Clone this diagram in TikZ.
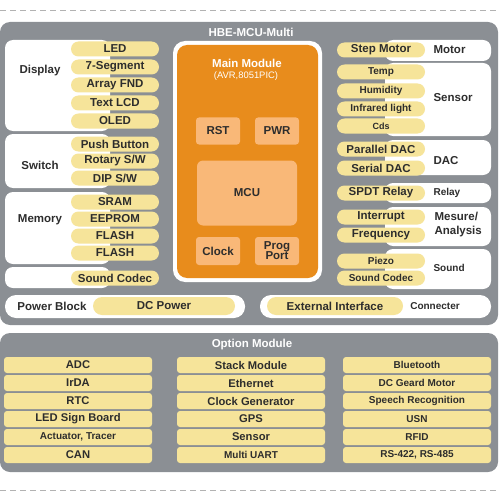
\documentclass[tikz,border=0pt]{standalone}
\usepackage{fontspec}
\setmainfont{Liberation Sans}
\usetikzlibrary{positioning}

\definecolor{panelgray}{RGB}{139,143,148}
\definecolor{pillyellow}{RGB}{246,228,154}
\definecolor{mainorange}{RGB}{232,140,28}
\definecolor{lightorange}{RGB}{249,184,120}
\definecolor{textgray}{RGB}{45,45,45}

\tikzset{
  cutline/.style={gray!60, dashed, dash pattern=on 6pt off 4pt, line width=0.8pt},
  panel/.style={fill=panelgray, rounded corners=10pt},
  group/.style={fill=white, rounded corners=8pt},
  bar/.style={fill=white, rounded corners=11pt},
  title/.style={text=white, font=\fontsize{11.5}{13}\selectfont\bfseries},
  lbl/.style={text=textgray, font=\fontsize{11.5}{14}\selectfont\bfseries},
  lblsm/.style={text=textgray, font=\fontsize{10}{12}\selectfont\bfseries},
  pill/.style={fill=pillyellow, rounded corners=7.5pt, minimum height=15pt,
    minimum width=88pt, inner sep=0pt, text=textgray,
    font=\fontsize{11.5}{13}\selectfont\bfseries},
  pillsm/.style={pill, font=\fontsize{10}{12}\selectfont\bfseries},
  pilltiny/.style={pill, font=\fontsize{9}{10}\selectfont\bfseries},
  core/.style={fill=lightorange, rounded corners=3pt, inner sep=0pt,
    text=textgray, align=center, font=\fontsize{11.5}{12}\selectfont\bfseries},
  optbox/.style={fill=pillyellow, rounded corners=3pt, minimum height=16pt,
    minimum width=148pt, inner sep=0pt, text=textgray,
    font=\fontsize{11.2}{13}\selectfont\bfseries},
  optsm/.style={optbox, font=\fontsize{10}{12}\selectfont\bfseries}
}

\begin{document}
\begin{tikzpicture}[x=1pt, y=-1pt]
  \useasboundingbox (0,0) rectangle (500,500);

  % Dashed cut lines
  \draw[cutline] (0,10) -- (500,10);
  \draw[cutline] (0,490) -- (500,490);

  % Gray panels
  \fill[panel] (0,22) rectangle (498,325);
  \fill[panel] (0,333) rectangle (498,472);
  \node[title] (hbe) at (251,32) {HBE-MCU-Multi};
  \node[title] (opt) at (252,345) {Option Module};

  % White group boxes
  \foreach \top/\bot in {40/131, 134/188, 192/264, 267/288}
    \fill[group] (5,\top) rectangle (110,\bot);
  \foreach \top/\bot in {40/61, 63/136, 140/175, 183/203, 207/246, 249/289}
    \fill[group] (385,\top) rectangle (491,\bot);
  \fill[bar] (5,295) rectangle (245,318);
  \fill[bar] (260,295) rectangle (491,318);

  % Main module
  \fill[white, rounded corners=12pt] (173,41) rectangle (322,282);
  \fill[mainorange, rounded corners=10pt] (177,45) rectangle (318,278);
  \node[title] (main) at (247,63) {Main Module};
  \node[text=white, font=\fontsize{9.4}{11}\selectfont] (avr) at (246,76) {(AVR,8051PIC)};

  \node[core, minimum width=44pt, minimum height=27pt] (rst) at (218,131) {RST};
  \node[core, minimum width=44pt, minimum height=27pt] (pwr) at (277,131) {PWR};
  \node[core, minimum width=100pt, minimum height=65pt, rounded corners=6pt] (mcu) at (247,193) {MCU};
  \node[core, minimum width=44pt, minimum height=28pt] (clock) at (218,251) {Clock};
  \node[core, minimum width=44pt, minimum height=28pt] (prog) at (277,251) {Prog\\[-2pt]Port};

  % Left pills
  \foreach \name/\y/\txt/\sty in {led/49/LED/pill, seg/67/7-Segment/pill,
      fnd/85/Array FND/pill, lcd/103/Text LCD/pill, oled/121/OLED/pill,
      push/144/Push Button/pill, rot/161/{Rotary S/W}/pill, dip/178/{DIP S/W}/pill,
      sram/202/SRAM/pill, eep/219/EEPROM/pill, flasha/236/FLASH/pill,
      flashb/253/FLASH/pill, codec/278/Sound Codec/pill}
    \node[\sty] (\name) at (115,\y) {\txt};

  % Right pills
  \foreach \name/\y/\txt/\sty in {step/50/Step Motor/pill, temp/72/Temp/pillsm,
      hum/91/Humidity/pillsm, ir/109/Infrared light/pillsm, cds/126/Cds/pilltiny,
      pdac/149/Parallel DAC/pill, sdac/168/Serial DAC/pill,
      spdt/193/SPDT Relay/pill, intr/217/Interrupt/pill, freq/235/Frequency/pill,
      piezo/261/Piezo/pillsm, scodec/278/Sound Codec/pillsm}
    \node[\sty] (\name) at (381,\y) {\txt};

  % Group labels
  \node[lbl] (display) at (40,71) {Display};
  \node[lbl] (switch) at (40,165) {Switch};
  \node[lbl] (memory) at (40,220) {Memory};
  \node[lbl, anchor=west] (motor) at (430,50) {Motor};
  \node[lbl, anchor=west] (sensor) at (430,98) {Sensor};
  \node[lbl, anchor=west] (dac) at (430,161) {DAC};
  \node[lblsm, anchor=west] (relay) at (430,193) {Relay};
  \node[lbl, anchor=west, align=left] (mesure) at (431,225) {Mesure/\\Analysis};
  \node[lblsm, anchor=west] (sound) at (430,268) {Sound};

  % Power and connector bars
  \node[lbl] (power) at (52,306) {Power Block};
  \node[pill, minimum width=142pt, minimum height=18pt, rounded corners=9pt] (dc) at (164,306) {DC Power};
  \node[pill, minimum width=136pt, minimum height=18pt, rounded corners=9pt] (ext) at (335,306) {External Interface};
  \node[lblsm] (conn) at (435,306) {Connecter};

  % Option modules
  \foreach \name/\y/\txt/\sty in {adc/365/ADC/optbox, irda/383/IrDA/optbox,
      rtc/401/RTC/optbox, sign/419/LED Sign Board/optbox,
      act/437/{Actuator, Tracer}/optsm, can/455/CAN/optbox}
    \node[\sty] (\name) at (78,\y) {\txt};
  \foreach \name/\y/\txt/\sty in {stack/365/Stack Module/optbox, eth/383/Ethernet/optbox,
      clkgen/401/Clock Generator/optbox, gps/419/GPS/optbox,
      sens/437/Sensor/optbox, uart/455/Multi UART/optsm}
    \node[\sty] (\name) at (251,\y) {\txt};
  \foreach \name/\y/\txt/\sty in {bt/365/Bluetooth/optsm, dcm/383/DC Geard Motor/optsm,
      speech/401/Speech Recognition/optsm, usn/419/USN/optsm,
      rfid/437/RFID/optsm, rs/455/{RS-422, RS-485}/optsm}
    \node[\sty] (\name) at (417,\y) {\txt};
\end{tikzpicture}
\end{document}
